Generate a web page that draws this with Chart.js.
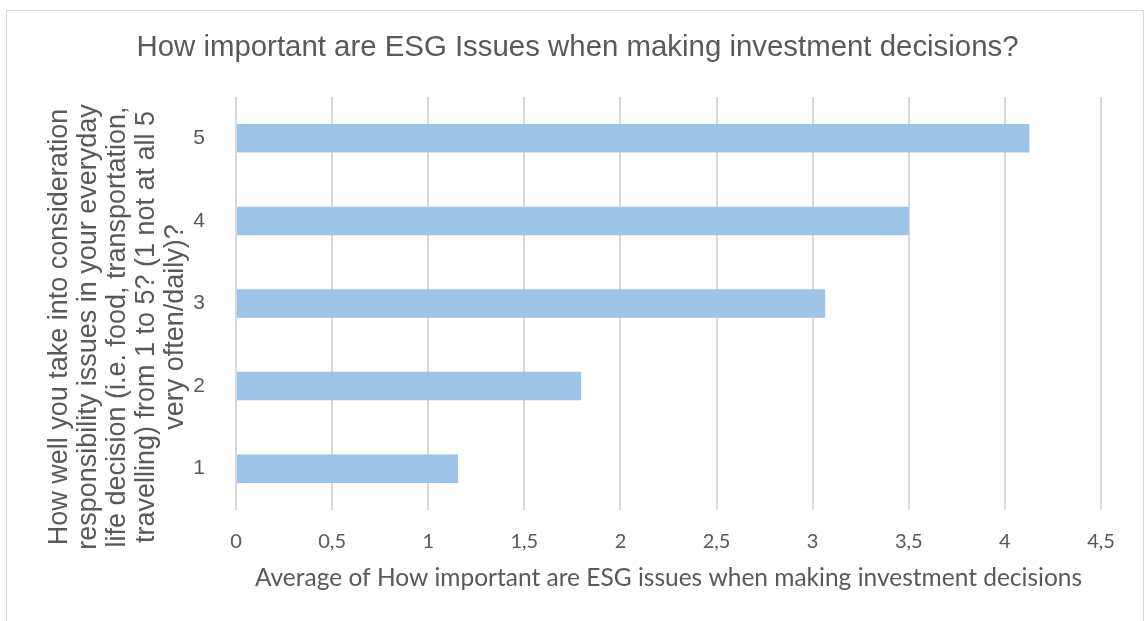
<!DOCTYPE html>
<html>
<head>
<meta charset="utf-8">
<title>ESG Issues</title>
<script src="https://cdn.jsdelivr.net/npm/chart.js@4.4.1/dist/chart.umd.min.js"></script>
<style>
  body { margin: 0; background: #fff; }
  #wrap { position: relative; width: 1146px; height: 621px; overflow: hidden; }
  #frame { position: absolute; left: 6px; top: 10px; width: 1136px; height: 640px; border: 1.5px solid #d9d9d9; }
  #grafica { position: absolute; left: 0; top: 0; }
</style>
</head>
<body>
<div id="wrap">
  <div id="frame"></div>
  <canvas id="grafica" width="1146" height="621"></canvas>
</div>
<script>
const categorias = ['1', '2', '3', '4', '5'];
const promedios = [1.155, 1.795, 3.065, 3.5, 4.127];
const etiquetasX = ['0', '0,5', '1', '1,5', '2', '2,5', '3', '3,5', '4', '4,5'];

const tituloY = [
    'How well you take into consideration',
    'responsibility issues in your everyday',
    'life decision (i.e. food, transportation,',
    'travelling) from 1 to 5? (1 not at all 5',
    'very often/daily)?'
];
const tituloX = 'Average of How important are ESG issues when making investment decisions';
const titulo = 'How important are ESG Issues when making investment decisions?';

const gris = '#595959';

// titulo del eje Y en varias lineas, girado, dibujado a mano
const tituloEjeY = {
    id: 'tituloEjeY',
    afterDraw(chart) {
        const c = chart.ctx;
        c.save();
        c.fillStyle = gris;
        c.font = '27px "Liberation Sans"';
        c.textAlign = 'center';
        c.textBaseline = 'alphabetic';
        tituloY.forEach((linea, i) => {
            c.save();
            c.translate(67 + i * 29, 327);
            c.rotate(-Math.PI / 2);
            c.fillText(linea, 0, 0);
            c.restore();
        });
        c.restore();
    }
};

const ctx = document.getElementById('grafica').getContext('2d');

new Chart(ctx, {
    type: 'bar',
    data: {
        labels: categorias,
        datasets: [{
            data: promedios,
            backgroundColor: '#9dc3e6',
            borderWidth: 0,
            categoryPercentage: 1,
            barPercentage: 0.345
        }]
    },
    options: {
        indexAxis: 'y',
        responsive: false,
        animation: false,
        devicePixelRatio: 1,
        layout: { padding: { top: 10, left: 54, right: 45, bottom: 0 } },
        plugins: {
            legend: { display: false },
            tooltip: { enabled: false },
            title: {
                display: true,
                text: titulo,
                color: gris,
                font: { family: 'Liberation Sans', size: 29.4, weight: 'normal' },
                padding: { top: 20.2, bottom: 31.5 }
            }
        },
        scales: {
            x: {
                min: 0,
                max: 4.5,
                ticks: {
                    stepSize: 0.5,
                    color: gris,
                    padding: 20,
                    font: { family: 'Lato', size: 20 },
                    callback: (v, i) => etiquetasX[i]
                },
                grid: { color: '#d9d9d9', lineWidth: 2, drawTicks: false },
                border: { display: false },
                title: {
                    display: true,
                    text: tituloX,
                    color: gris,
                    font: { family: 'Lato', size: 24.5 },
                    padding: { top: 0, bottom: 28.5 }
                },
                afterFit: (scale) => { scale.height = 111; }
            },
            y: {
                reverse: true,
                ticks: {
                    color: gris,
                    padding: 23,
                    font: { family: 'Liberation Sans', size: 21 }
                },
                grid: { display: false },
                border: { display: false },
                afterFit: (scale) => { scale.width = 182; }
            }
        }
    },
    plugins: [tituloEjeY]
});
</script>
</body>
</html>
